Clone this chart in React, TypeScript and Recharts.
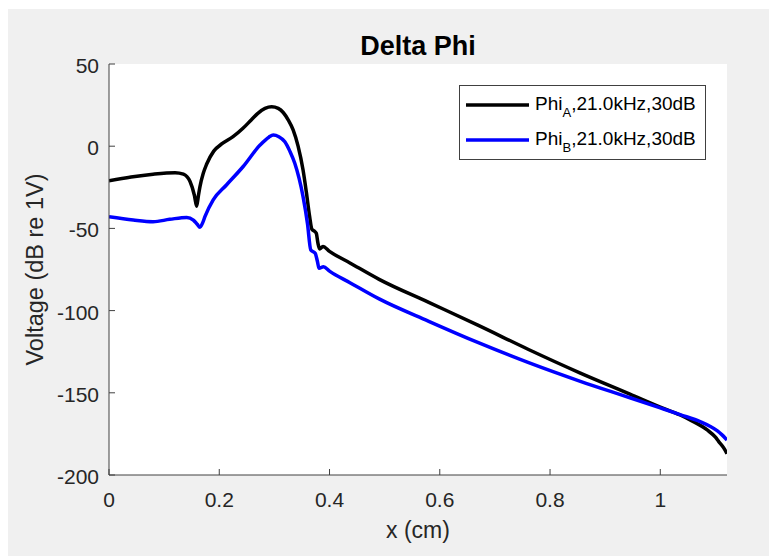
import React from "react";
import { LineChart, Line, XAxis, YAxis, Legend, Label } from "recharts";

// ---- data ----
const xA = [0, 0.04, 0.08, 0.12, 0.135, 0.147, 0.155, 0.159, 0.162, 0.165, 0.171, 0.177, 0.19, 0.205, 0.225, 0.243, 0.258, 0.27, 0.283, 0.295, 0.307, 0.316, 0.325, 0.334, 0.343, 0.352, 0.358, 0.364, 0.368, 0.372, 0.376, 0.379, 0.382, 0.388, 0.4, 0.437, 0.49, 0.58, 0.67, 0.76, 0.855, 0.945, 1.0, 1.036, 1.054, 1.085, 1.1, 1.106, 1.115, 1.121];
const phiA = [-21, -18.7, -17, -16.1, -17, -21.5, -30, -36.5, -30.5, -24.6, -16.5, -11, -3, 1.5, 5.8, 10.9, 16, 20, 23, 24, 23, 20.5, 16, 9.9, 0, -14.5, -28, -42.9, -50.5, -51.5, -53, -59, -62.5, -61, -64, -71, -81, -95, -109, -123.5, -138, -150.8, -158.7, -163.5, -166.5, -172.6, -177, -179.7, -183.5, -187];

const xB = [0, 0.044, 0.08, 0.11, 0.141, 0.153, 0.16, 0.165, 0.17, 0.174, 0.189, 0.213, 0.243, 0.274, 0.29, 0.298, 0.308, 0.319, 0.328, 0.337, 0.352, 0.36, 0.366, 0.374, 0.378, 0.381, 0.389, 0.4, 0.437, 0.49, 0.58, 0.67, 0.76, 0.855, 0.945, 1.0, 1.036, 1.073, 1.09, 1.103, 1.112, 1.121];
const phiB = [-42.9, -44.9, -45.9, -44.5, -43.3, -44.9, -47.5, -49.3, -46.5, -42.9, -32.7, -23.6, -12.5, 0.7, 5.5, 6.8, 5.8, 2.7, -3, -10.4, -30.7, -47, -63.1, -65.1, -70, -74.3, -73.3, -76, -83, -92.9, -106.5, -119.5, -131.5, -143, -153, -159.2, -163.3, -167.6, -170.3, -173, -175.6, -178.7];

const xTicks = [0, 0.2, 0.4, 0.6, 0.8, 1];
const yTicks = [-200, -150, -100, -50, 0, 50];
const xDomain = [0, 1.121];
const yDomain = [-200, 50];

const seriesNames = ["A", "B"];
const seriesLabelTail = ",21.0kHz,30dB";
const titleText = "Delta Phi";
const xLabelText = "x (cm)";
const yLabelText = "Voltage (dB re 1V)";

const dataA = xA.map((x, i) => ({ x, y: phiA[i] }));
const dataB = xB.map((x, i) => ({ x, y: phiB[i] }));

// ---- styles ----
const FONT = "'Liberation Sans', Arial, Helvetica, sans-serif";
const AXIS = "#404040";
const TEXT = "#262626";
const TICK_LEN = 6;

const fmtX = (v: number) => String(Number(v.toFixed(2)));
const fmtY = (v: number) => String(v);

const XTickBottom = (props: any) => {
  const { x, y, payload } = props;
  return (
    <g>
      <line x1={x} x2={x} y1={y} y2={y - TICK_LEN} stroke={AXIS} strokeWidth={1} />
      <text x={x} y={y + 31.7} textAnchor="middle" fontSize={21} fill={TEXT} fontFamily={FONT}>
        {fmtX(payload.value)}
      </text>
    </g>
  );
};
const XTickTop = (props: any) => {
  const { x, y } = props;
  return <line x1={x} x2={x} y1={y} y2={y + TICK_LEN} stroke={AXIS} strokeWidth={1} />;
};
const YTickLeft = (props: any) => {
  const { x, y, payload } = props;
  return (
    <g>
      <line x1={x} x2={x + TICK_LEN} y1={y} y2={y} stroke={AXIS} strokeWidth={1} />
      <text x={x - 10} y={y + 9} textAnchor="end" fontSize={21} fill={TEXT} fontFamily={FONT}>
        {fmtY(payload.value)}
      </text>
    </g>
  );
};
const YTickRight = (props: any) => {
  const { x, y } = props;
  return <line x1={x} x2={x - TICK_LEN} y1={y} y2={y} stroke={AXIS} strokeWidth={1} />;
};

const LegendBox = () => {
  const rows = [
    { color: "#000000", name: seriesNames[0] },
    { color: "#0000ff", name: seriesNames[1] },
  ];
  return (
    <svg width={247} height={75} style={{ display: "block" }}>
      <rect x={0.5} y={0.5} width={246} height={74} fill="#ffffff" stroke={AXIS} strokeWidth={1} />
      {rows.map((r, i) => (
        <g key={i}>
          <line x1={7} x2={70} y1={20 + i * 35} y2={20 + i * 35} stroke={r.color} strokeWidth={3.5} />
          <text x={76} y={25 + i * 35} fontSize={19} fill="#000" fontFamily={FONT}>
            Phi
            <tspan dy={6.5} fontSize={13}>{r.name}</tspan>
            <tspan dy={-6.5}>{seriesLabelTail}</tspan>
          </text>
        </g>
      ))}
    </svg>
  );
};

export default function App() {
  return (
    <div style={{ position: "relative", top: 1, width: 769, height: 548, background: "#f0f0f0" }}>
      <LineChart width={769} height={548} margin={{ top: 55, right: 50, bottom: 0, left: 0 }}>
        <rect x={101} y={55} width={618} height={411} fill="#ffffff" />
        <text x={410} y={46} textAnchor="middle" fontSize={27} fontWeight="bold" fill="#000" fontFamily={FONT}>
          {titleText}
        </text>
        <XAxis
          xAxisId="bottom"
          type="number"
          dataKey="x"
          domain={xDomain}
          ticks={xTicks}
          allowDataOverflow
          orientation="bottom"
          height={82}
          tickSize={0}
          tickMargin={0}
          tickLine={false}
          axisLine={{ stroke: AXIS, strokeWidth: 1 }}
          tick={<XTickBottom />}
          interval={0}
        >
          <Label
            content={(p: any) => {
              const vb = p.viewBox;
              return (
                <text x={vb.x + vb.width / 2} y={vb.y + 63.3} textAnchor="middle" fontSize={23} fill={TEXT} fontFamily={FONT}>
                  {xLabelText}
                </text>
              );
            }}
          />
        </XAxis>
        <XAxis
          xAxisId="top"
          type="number"
          dataKey="x"
          domain={xDomain}
          ticks={xTicks}
          allowDataOverflow
          orientation="top"
          height={0}
          tickSize={0}
          tickMargin={0}
          tickLine={false}
          axisLine={{ stroke: AXIS, strokeWidth: 1 }}
          tick={<XTickTop />}
          interval={0}
        />
        <YAxis
          yAxisId="left"
          type="number"
          domain={yDomain}
          ticks={yTicks}
          allowDataOverflow
          orientation="left"
          width={101}
          tickSize={0}
          tickMargin={0}
          tickLine={false}
          axisLine={{ stroke: AXIS, strokeWidth: 1 }}
          tick={<YTickLeft />}
          interval={0}
        >
          <Label
            content={(p: any) => {
              const vb = p.viewBox;
              const cx = vb.x + 35.3;
              const cy = vb.y + vb.height / 2;
              return (
                <text x={cx} y={cy} transform={`rotate(-90 ${cx} ${cy})`} textAnchor="middle" fontSize={23.5} fill={TEXT} fontFamily={FONT}>
                  {yLabelText}
                </text>
              );
            }}
          />
        </YAxis>
        <YAxis
          yAxisId="right"
          type="number"
          domain={yDomain}
          ticks={yTicks}
          allowDataOverflow
          orientation="right"
          width={0}
          tickSize={0}
          tickMargin={0}
          tickLine={false}
          axisLine={{ stroke: AXIS, strokeWidth: 1 }}
          tick={<YTickRight />}
          interval={0}
        />
        <Line
          data={dataA}
          xAxisId="bottom"
          yAxisId="left"
          dataKey="y"
          type="monotoneX"
          stroke="#000000"
          strokeWidth={3.5}
          dot={false}
          activeDot={false}
          isAnimationActive={false}
          name="A"
        />
        <Line
          data={dataB}
          xAxisId="bottom"
          yAxisId="left"
          dataKey="y"
          type="monotoneX"
          stroke="#0000ff"
          strokeWidth={3.5}
          dot={false}
          activeDot={false}
          isAnimationActive={false}
          name="B"
        />
        <Legend
          layout="vertical"
          align="center"
          verticalAlign="middle"
          content={() => <LegendBox />}
          wrapperStyle={{ position: "absolute", left: 451, top: 76, width: 247, height: 75, margin: 0, padding: 0 }}
        />
      </LineChart>
    </div>
  );
}
